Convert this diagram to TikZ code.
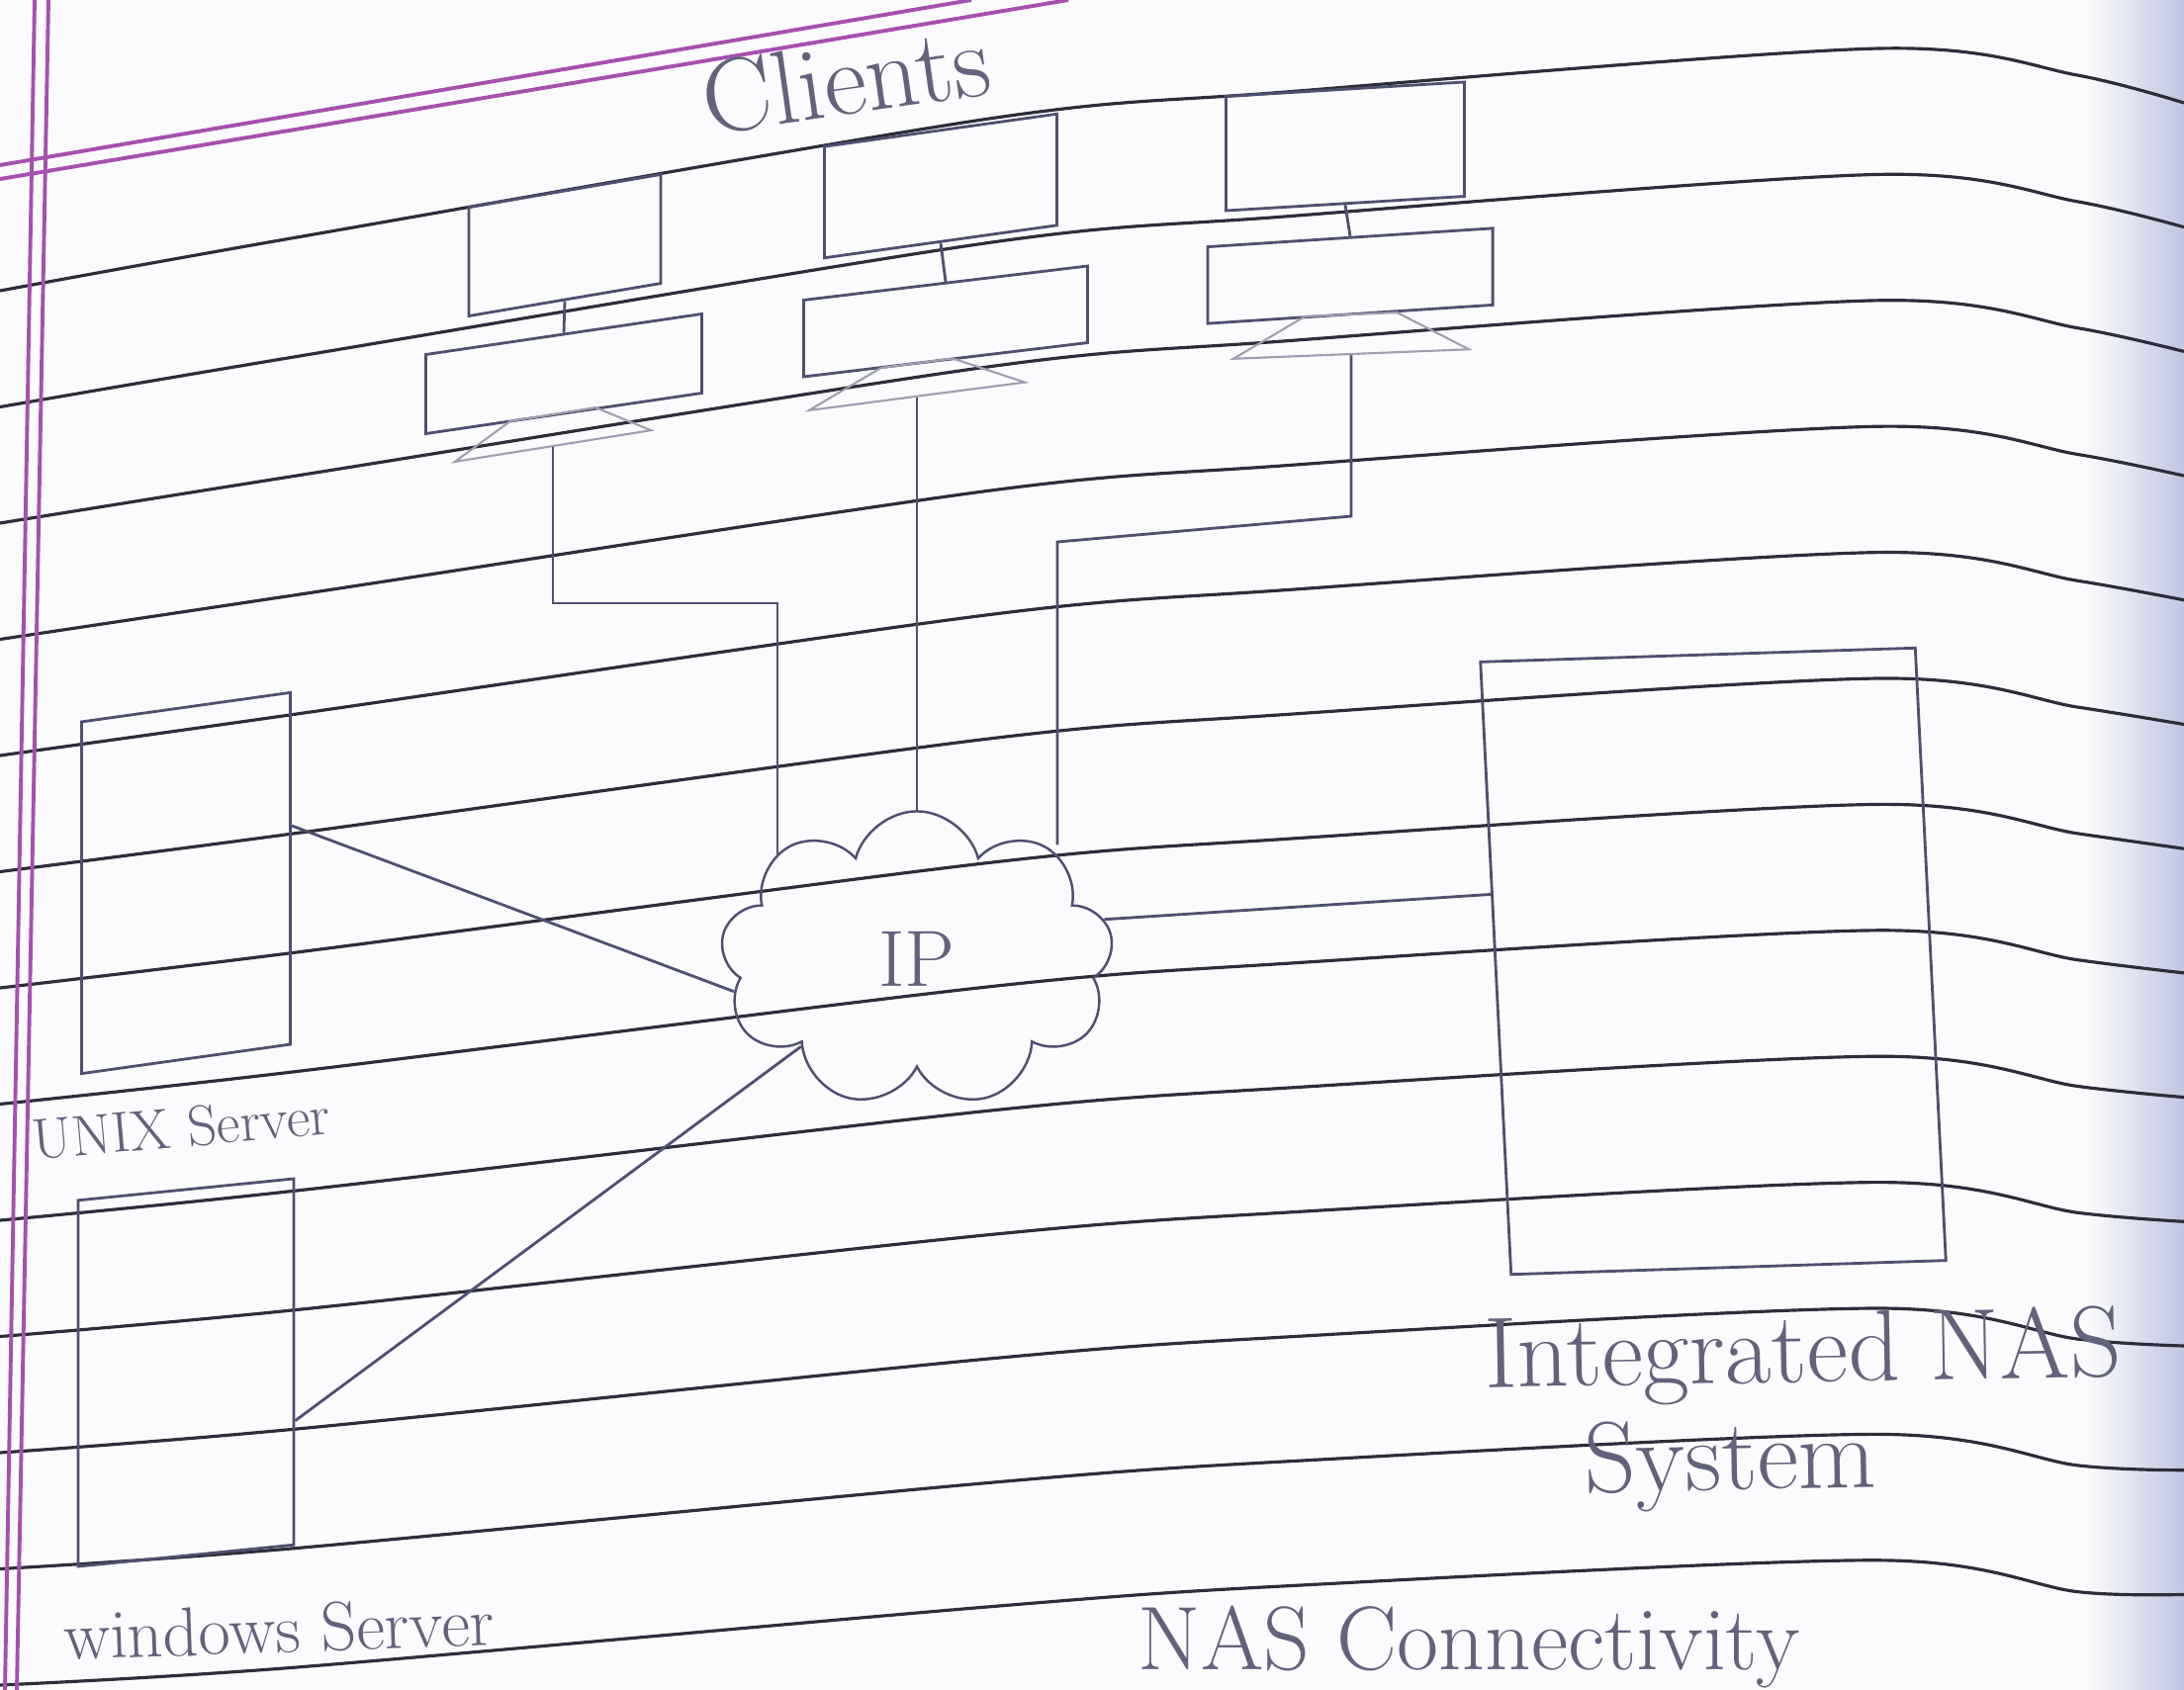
\documentclass[tikz,border=0pt]{standalone}
\usepackage{fontspec}
\usepackage{tikz}
\usetikzlibrary{shapes.geometric, shapes.symbols, positioning, calc}
\usepackage{xcolor}

\definecolor{pencil}{RGB}{78,80,112}
\definecolor{inkline}{RGB}{45,45,58}
\definecolor{margin}{RGB}{165,80,175}
\definecolor{scrawl}{RGB}{98,98,124}
\definecolor{paper}{RGB}{251,251,253}
\definecolor{spine}{RGB}{192,198,226}

\begin{document}
\begin{tikzpicture}[
  x=0.01cm, y=-0.01cm,
  ruled/.style={draw=inkline, line width=0.9pt},
  box/.style={rectangle, draw=pencil, line width=0.8pt, inner sep=0pt},
  kbd/.style={trapezium, trapezium stretches=true, draw=pencil!55,
    line width=0.6pt, inner sep=1pt},
  wire/.style={draw=pencil, line width=0.8pt},
  lbl/.style={text=scrawl, inner sep=0pt}
]
\useasboundingbox (0,0) rectangle (2208,1709);
\clip (0,0) rectangle (2208,1709);
\fill[paper] (0,0) rectangle (2208,1709);
\shade[left color=paper, right color=spine] (2110,0) rectangle (2208,1709);

% notebook rules and margin
\foreach \k in {0,...,12}
  \draw[ruled] plot[smooth] coordinates {(0,{294+117.5*\k}) (300,{240+120.5*\k})
    (1000,{120+125.4*\k}) (1300,{93+125.9*\k}) (1900,{49+127.4*\k})
    (2100,{76+127.8*\k}) (2208,{104+125.7*\k})};
\draw[margin, line width=1.1pt] (0,167) -- (982,0);
\draw[margin, line width=1.1pt] (0,181) -- (1080,0);
\draw[margin, line width=1.1pt] (35,0) -- (5,1709);
\draw[margin, line width=1.1pt] (49,0) -- (17,1709);

% clients
\node[box, minimum width=1.94cm, minimum height=1.10cm, yslant=0.17] (mon1) at (571,248) {};
\node[box, minimum width=2.79cm, minimum height=0.80cm, yslant=0.147] (cpu1) at (570,378) {};
\node[kbd, minimum width=1.98cm, minimum height=0.32cm, trapezium left angle=57,
  trapezium right angle=57, yslant=0.16] (kb1) at (559,435) {};

\node[box, minimum width=2.35cm, minimum height=1.125cm, yslant=0.14] (mon2) at (951,188) {};
\node[box, minimum width=2.87cm, minimum height=0.775cm, yslant=0.12] (cpu2) at (956,325) {};
\node[kbd, minimum width=2.18cm, minimum height=0.335cm, trapezium left angle=45,
  trapezium right angle=45, yslant=0.13] (kb2) at (927,384) {};

\node[box, minimum width=2.41cm, minimum height=1.155cm, yslant=0.06] (mon3) at (1360,148) {};
\node[box, minimum width=2.88cm, minimum height=0.775cm, yslant=0.065] (cpu3) at (1365,279) {};
\node[kbd, minimum width=2.38cm, minimum height=0.40cm, trapezium left angle=52,
  trapezium right angle=52, yslant=0.04] (kb3) at (1366,338) {};

\draw[wire] (mon1.south) -- (cpu1.north);
\draw[wire] (mon2.south) -- (cpu2.north);
\draw[wire] (mon3.south) -- (cpu3.north);

% servers, network, storage
\node[box, minimum width=2.11cm, minimum height=3.555cm, yslant=0.14] (unix) at (188,893) {};
\node[box, minimum width=2.18cm, minimum height=3.70cm, yslant=0.10] (win) at (188,1388) {};
\node[box, minimum width=4.40cm, minimum height=6.19cm, xslant=-0.05, yslant=0.032] (nas) at (1732,972) {};
\node[cloud, cloud puffs=9, cloud ignores aspect, draw=pencil, line width=0.7pt,
  minimum width=3.97cm, minimum height=2.99cm, text=scrawl,
  font=\fontsize{23}{28}\selectfont] (ip) at (927,970) {IP};

\coordinate (j1) at (786,610);
\coordinate (j3a) at (1366,522);
\coordinate (j3b) at (1069,548);
\draw[wire] (kb1.south) |- (j1) -- (j1 |- ip.144);
\draw[wire] (kb2.south) -- (kb2.south |- ip.north);
\draw[wire] (kb3.south) -- (j3a) -- (j3b) -- (j3b |- ip.42);
\draw[wire] ($(unix.north east)!0.38!(unix.south east)$) -- (ip.190);
\draw[wire] ($(win.north east)!0.66!(win.south east)$) -- (ip.217);
\draw[wire] (ip.12) -- ($(nas.north west)!0.38!(nas.south west)$);

% labels
\node[lbl, font=\fontsize{30}{36}\selectfont, rotate=8] (clientlbl) at (855,80) {Clients};
\node[lbl, font=\fontsize{16.5}{20}\selectfont, rotate=5] (unixlbl) at (183,1140) {UNIX Server};
\node[lbl, font=\fontsize{20}{24}\selectfont, rotate=2] (winlbl) at (282,1647) {windows Server};
\node[lbl, font=\fontsize{29}{35}\selectfont, rotate=1] (naslbl) at (1823,1372) {Integrated NAS};
\node[lbl, font=\fontsize{29}{35}\selectfont, rotate=1, below=0.14cm of naslbl,
  xshift=-0.75cm] (naslbl2) {System};
\node[lbl, font=\fontsize{26}{31}\selectfont, anchor=base] (title) at (1485,1688) {NAS Connectivity};

\end{tikzpicture}
\end{document}
